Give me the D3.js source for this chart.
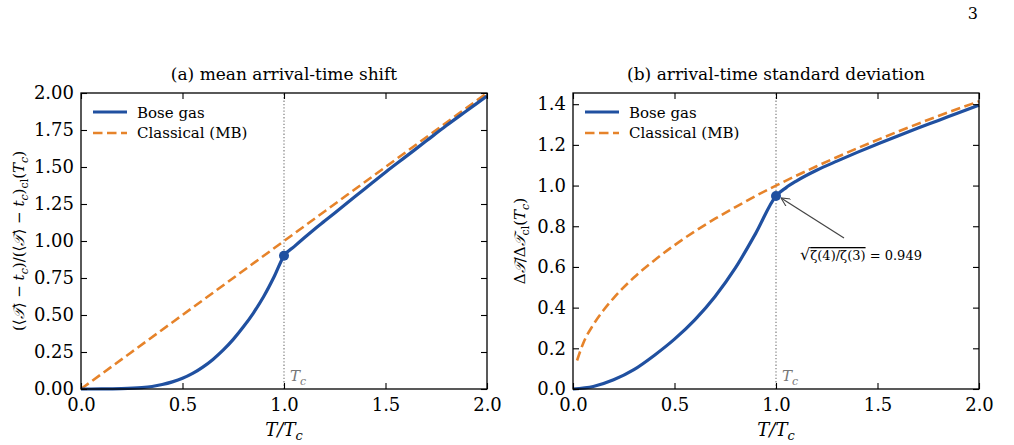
<!DOCTYPE html>
<html>
<head>
<meta charset="utf-8">
<script src="https://cdn.jsdelivr.net/npm/d3@7"></script>
<style>
  body { margin: 0; background: #fff; }
  text { font-family: "DejaVu Serif", serif; fill: #000; }
</style>
</head>
<body>
<svg width="1014" height="445"></svg>
<script>
// --- data ---
// (a) mean arrival-time shift
const tA = [0, 0.1, 0.2, 0.3, 0.35, 0.4, 0.45, 0.5, 0.55, 0.6, 0.65, 0.7, 0.75, 0.8, 0.85, 0.9, 0.95, 1.0,
            1.05, 1.1, 1.15, 1.2, 1.3, 1.4, 1.5, 1.6, 1.7, 1.8, 1.9, 2.0];
const boseA = [0, 0.0003, 0.002, 0.009, 0.017, 0.030, 0.048, 0.072, 0.105, 0.148, 0.20, 0.262, 0.335,
               0.42, 0.515, 0.625, 0.755, 0.90,
               0.962, 1.022, 1.08, 1.135, 1.245, 1.355, 1.465, 1.57, 1.675, 1.78, 1.88, 1.98];
const tClA = [0, 0.5, 1.0, 1.5, 2.0];
const clA = [0, 0.5, 1.0, 1.5, 2.0];

// (b) arrival-time standard deviation
const tB = [0, 0.1, 0.2, 0.3, 0.4, 0.5, 0.6, 0.7, 0.8, 0.9, 1.0,
            1.05, 1.1, 1.2, 1.3, 1.4, 1.5, 1.6, 1.7, 1.8, 1.9, 2.0];
const boseB = [0, 0.012, 0.045, 0.095, 0.165, 0.245, 0.34, 0.455, 0.595, 0.765, 0.949,
               0.99, 1.022, 1.075, 1.12, 1.163, 1.204, 1.244, 1.283, 1.32, 1.358, 1.395];
const tClB = [0.02, 0.05, 0.1, 0.15, 0.2, 0.3, 0.4, 0.5, 0.6, 0.7, 0.8, 0.9, 1.0,
              1.2, 1.4, 1.6, 1.8, 2.0];
const clB = [0.14, 0.224, 0.316, 0.387, 0.447, 0.548, 0.632, 0.707, 0.775, 0.837, 0.894, 0.949, 1.0,
             1.095, 1.183, 1.265, 1.342, 1.414];

const xTicks = [0, 0.5, 1.0, 1.5, 2.0];
const yTicksA = [0, 0.25, 0.5, 0.75, 1.0, 1.25, 1.5, 1.75, 2.0];
const yTicksB = [0, 0.2, 0.4, 0.6, 0.8, 1.0, 1.2, 1.4];
const markA = 0.90;   // Bose value at T = Tc, panel a
const markB = 0.949;  // Bose value at T = Tc, panel b

const blue = '#2050a0';
const orange = '#e6832a';

const svg = d3.select('svg');

// arrow marker for the annotation
svg.append('defs').append('marker')
  .attr('id', 'arr')
  .attr('viewBox', '0 0 10 10')
  .attr('refX', 10).attr('refY', 5)
  .attr('markerWidth', 9).attr('markerHeight', 9)
  .attr('markerUnits', 'userSpaceOnUse')
  .attr('orient', 'auto')
  .append('path')
  .attr('d', 'M0,0 L10,5 L0,10')
  .attr('fill', 'none').attr('stroke', '#444').attr('stroke-width', 1.2);

// writes [text, style] pieces into a text node; style: 'i' italic, 's' subscript, 'si' both
function rich(sel, parts, subSize) {
  let off = 0;
  parts.forEach(([s, st]) => {
    const t = sel.append('tspan').text(s);
    const want = (st || '').includes('s') ? 4 : 0;
    if (want !== off) { t.attr('dy', want - off); off = want; }
    if ((st || '').includes('s')) t.attr('font-size', subSize);
    if ((st || '').includes('i')) t.attr('font-style', 'italic');
  });
  return sel;
}

function panel(opt) {
  const {left, right, top, bottom, yMax, yTicks, yFmt, title} = opt;
  const g = svg.append('g');
  const x = d3.scaleLinear().domain([0, 2]).range([left, right]);
  const y = d3.scaleLinear().domain([0, yMax]).range([bottom, top]);

  // vertical dotted line at Tc
  g.append('line')
    .attr('x1', x(1)).attr('x2', x(1))
    .attr('y1', y(0)).attr('y2', top)
    .attr('stroke', '#888').attr('stroke-width', 1.3)
    .attr('stroke-dasharray', '1.3,2');
  rich(g.append('text')
    .attr('x', x(1) + 6).attr('y', bottom - 8)
    .attr('font-size', 15).style('fill', '#777'),
    [['T', 'i'], ['c', 'si']], 11);

  const line = d3.line()
    .x(d => x(d[0])).y(d => y(d[1]))
    .curve(d3.curveMonotoneX);

  g.append('path')
    .attr('d', line(d3.zip(opt.tCl, opt.cl)))
    .attr('fill', 'none').attr('stroke', orange)
    .attr('stroke-width', 2.6).attr('stroke-dasharray', '9.5,4.5');

  g.append('path')
    .attr('d', line(d3.zip(opt.t, opt.bose)))
    .attr('fill', 'none').attr('stroke', blue)
    .attr('stroke-width', 3.2);

  g.append('circle')
    .attr('cx', x(1)).attr('cy', y(opt.mark)).attr('r', 5)
    .attr('fill', blue);

  // axes: ticks inside, all four sides
  const tl = 6;
  const xb = d3.axisBottom(x).tickValues(xTicks).tickSize(-tl).tickPadding(9)
    .tickFormat(d3.format('.1f'));
  const xt = d3.axisTop(x).tickValues(xTicks).tickSize(-tl).tickFormat('');
  const yl = d3.axisLeft(y).tickValues(yTicks).tickSize(-tl).tickPadding(7)
    .tickFormat(d3.format(yFmt));
  const yr = d3.axisRight(y).tickValues(yTicks).tickSize(-tl).tickFormat('');

  [[xb, `translate(0,${bottom})`], [xt, `translate(0,${top})`],
   [yl, `translate(${left},0)`], [yr, `translate(${right},0)`]].forEach(([ax, tr]) => {
    const a = g.append('g').attr('transform', tr).call(ax);
    a.select('.domain').remove();
    a.selectAll('.tick line').attr('stroke', '#000').attr('stroke-width', 1.1);
    a.selectAll('.tick text').attr('font-size', 18);
  });

  g.append('rect')
    .attr('x', left).attr('y', top)
    .attr('width', right - left).attr('height', bottom - top)
    .attr('fill', 'none').attr('stroke', '#000').attr('stroke-width', 1.3);

  // title
  g.append('text')
    .attr('x', (left + right) / 2).attr('y', top - 13)
    .attr('text-anchor', 'middle').attr('font-size', 17)
    .text(title);

  // x label
  rich(g.append('text')
    .attr('x', (left + right) / 2).attr('y', bottom + 47)
    .attr('text-anchor', 'middle').attr('font-size', 18),
    [['T/T', 'i'], ['c', 'si']], 13);

  // y label
  rich(g.append('text')
    .attr('transform', `translate(${opt.ylabX},${(top + bottom) / 2}) rotate(-90)`)
    .attr('text-anchor', 'middle').attr('font-size', 15),
    opt.ylabel, 11);

  // legend
  const lx = left + 12, ly = top + 19;
  g.append('line').attr('x1', lx).attr('x2', lx + 34).attr('y1', ly).attr('y2', ly)
    .attr('stroke', blue).attr('stroke-width', 3.2);
  g.append('line').attr('x1', lx).attr('x2', lx + 34).attr('y1', ly + 21).attr('y2', ly + 21)
    .attr('stroke', orange).attr('stroke-width', 2.6).attr('stroke-dasharray', '9.5,4.5');
  g.append('text').attr('x', lx + 44).attr('y', ly + 6).attr('font-size', 15).text('Bose gas');
  g.append('text').attr('x', lx + 44).attr('y', ly + 26).attr('font-size', 15).text('Classical (MB)');

  return {x, y, g};
}

panel({
  left: 81, right: 487, top: 93, bottom: 389, yMax: 2.0,
  yTicks: yTicksA, yFmt: '.2f', title: '(a) mean arrival-time shift',
  t: tA, bose: boseA, tCl: tClA, cl: clA, mark: markA, ylabX: 24,
  ylabel: [['(⟨'], ['𝒯', 'i'], ['⟩ − '], ['t', 'i'], ['c', 'si'], [')/(⟨'], ['𝒯', 'i'],
           ['⟩ − '], ['t', 'i'], ['c', 'si'], [')'], ['cl', 's'], ['('], ['T', 'i'], ['c', 'si'], [')']]
});

const pB = panel({
  left: 573, right: 979, top: 93, bottom: 389, yMax: 1.455,
  yTicks: yTicksB, yFmt: '.1f', title: '(b) arrival-time standard deviation',
  t: tB, bose: boseB, tCl: tClB, cl: clB, mark: markB, ylabX: 525,
  ylabel: [['Δ'], ['𝒯', 'i'], ['/Δ'], ['𝒯', 'i'], ['cl', 's'], ['('], ['T', 'i'], ['c', 'si'], [')']]
});

// annotation in panel b
pB.g.append('line')
  .attr('x1', 844).attr('y1', 238)
  .attr('x2', pB.x(1) + 5).attr('y2', pB.y(markB) + 2)
  .attr('stroke', '#444').attr('stroke-width', 1.2)
  .attr('marker-end', 'url(#arr)');
const ann = pB.g.append('text').attr('x', 861).attr('y', 260)
  .attr('text-anchor', 'middle').attr('font-size', 13);
ann.append('tspan').attr('font-size', 16).text('√');
ann.append('tspan').style('text-decoration', 'overline').text('ζ(4)/ζ(3)');
ann.append('tspan').text(' = 0.949');

// page number
svg.append('text').attr('x', 978).attr('y', 19).attr('text-anchor', 'end')
  .attr('font-size', 16).text('3');
</script>
</body>
</html>
